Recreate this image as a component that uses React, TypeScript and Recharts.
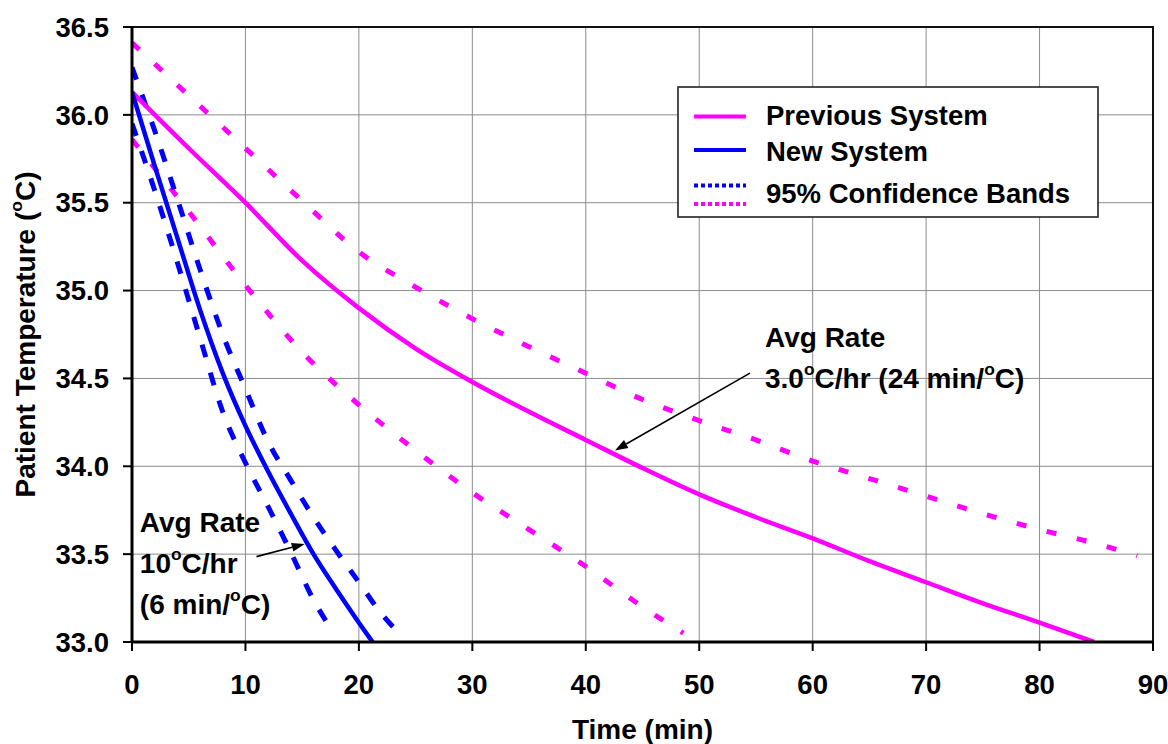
import React from 'react'
import {
  ComposedChart, Line, XAxis, YAxis, CartesianGrid, Legend,
  ReferenceArea, ReferenceLine, ReferenceDot,
} from 'recharts'

const MAGENTA = '#FF00FF'
const BLUE = '#0000FF'
const FONT = '"Liberation Sans", Arial, Helvetica, sans-serif'

// time (min) / temperature (°C)
const prevTime = [0, 5, 10, 15, 20, 25, 30, 35, 40, 45, 50, 55, 60, 65, 70, 75, 80, 84.8]
const prevTemp = [36.13, 35.81, 35.5, 35.17, 34.9, 34.67, 34.48, 34.31, 34.15, 33.99, 33.84, 33.71, 33.59, 33.46, 33.34, 33.22, 33.11, 33.0]

const prevUpperTime = [0, 5, 10, 15, 20, 25, 30, 35, 40, 45, 50, 55, 60, 65, 70, 75, 80, 85, 88.6]
const prevUpperTemp = [36.41, 36.11, 35.81, 35.51, 35.22, 35.02, 34.84, 34.68, 34.53, 34.38, 34.26, 34.15, 34.03, 33.93, 33.83, 33.73, 33.64, 33.56, 33.49]

const prevLowerTime = [0, 5, 10, 15, 20, 25, 30, 35, 40, 45, 48.6]
const prevLowerTemp = [35.86, 35.45, 35.03, 34.65, 34.35, 34.09, 33.85, 33.64, 33.43, 33.2, 33.05]

const newTime = [0, 2, 4, 6, 8, 10, 12, 14, 16, 18, 20, 21.2]
const newTemp = [36.13, 35.71, 35.3, 34.89, 34.53, 34.23, 33.97, 33.73, 33.5, 33.3, 33.11, 33.0]

const newUpperTime = [0, 2, 4, 6, 8, 10, 12, 14, 16, 18, 20, 22, 23.1]
const newUpperTemp = [36.27, 35.91, 35.52, 35.12, 34.75, 34.44, 34.14, 33.92, 33.71, 33.52, 33.34, 33.16, 33.08]

const newLowerTime = [0, 2, 4, 6, 8, 10, 12, 14, 16, 17.8]
const newLowerTemp = [35.95, 35.57, 35.16, 34.73, 34.31, 34.02, 33.77, 33.51, 33.24, 33.05]

const xTicks = [0, 10, 20, 30, 40, 50, 60, 70, 80, 90]
const yTicks = [33.0, 33.5, 34.0, 34.5, 35.0, 35.5, 36.0, 36.5]

const legendLabels = ['Previous System', 'New System', '95% Confidence Bands']

// "^o" marks a raised degree "o"
const noteX = [55.8, 0.69]
const noteY = [34.68, 33.624]
const noteLines = [
  ['Avg Rate', '3.0^oC/hr (24 min/^oC)'],
  ['Avg Rate', '10^oC/hr', '(6 min/^oC)'],
]
const arrowFrom = [{ x: 54.47, y: 34.53 }, { x: 10.97, y: 33.486 }]
const arrowTo = [{ x: 42.57, y: 34.09 }, { x: 15.23, y: 33.558 }]

const toPoints = (xs: number[], ys: number[]) => xs.map((time, i) => ({ time, temp: ys[i] }))

function SupText({ text, size }: { text: string; size: number }) {
  const parts = text.split('^o')
  const out: React.ReactNode[] = []
  const lift = size * 0.46
  parts.forEach((p, i) => {
    if (i > 0) {
      out.push(<tspan key={'s' + i} fontSize={size * 0.62} dy={-lift}>o</tspan>)
      out.push(<tspan key={'t' + i} fontSize={size} dy={lift}>{p}</tspan>)
    } else if (p) {
      out.push(<tspan key={'t' + i}>{p}</tspan>)
    }
  })
  return <>{out}</>
}

function Arrow(props: any) {
  const { x1, y1, x2, y2 } = props
  const a = Math.atan2(y2 - y1, x2 - x1)
  const len = 13, w = 4.5
  const bx = x2 - len * Math.cos(a), by = y2 - len * Math.sin(a)
  const px = -Math.sin(a) * w, py = Math.cos(a) * w
  return (
    <g>
      <line x1={x1} y1={y1} x2={bx} y2={by} stroke="#000" strokeWidth={1.6} />
      <polygon points={`${x2},${y2} ${bx + px},${by + py} ${bx - px},${by - py}`} fill="#000" />
    </g>
  )
}

function noteShape(lines: string[]) {
  return (p: any) => (
    <g>
      {lines.map((l, i) => (
        <text key={i} x={p.cx} y={p.cy + i * 41} fontFamily={FONT} fontWeight="bold" fontSize={28} fill="#000">
          <SupText text={l} size={28} />
        </text>
      ))}
    </g>
  )
}

function LegendBox() {
  const lineY = [30.5, 64]
  const baseY = [38.5, 75, 116.5]
  return (
    <svg width={422} height={132} style={{ display: 'block' }}>
      <rect x={1} y={1} width={420} height={130} fill="#fff" stroke="#222" strokeWidth={1.6} />
      <line x1={17} x2={69} y1={lineY[0]} y2={lineY[0]} stroke={MAGENTA} strokeWidth={4} />
      <line x1={17} x2={69} y1={lineY[1]} y2={lineY[1]} stroke={BLUE} strokeWidth={4} />
      <line x1={17} x2={69} y1={99.5} y2={99.5} stroke={BLUE} strokeWidth={4} strokeDasharray="4 3" />
      <line x1={17} x2={69} y1={118} y2={118} stroke={MAGENTA} strokeWidth={4} strokeDasharray="4 3" />
      {legendLabels.map((l, i) => (
        <text key={l} x={89} y={baseY[i]} fontFamily={FONT} fontWeight="bold" fontSize={27.5} fill="#000">{l}</text>
      ))}
    </svg>
  )
}

const tickStyle = { fill: '#000', fontSize: 27.5, fontWeight: 'bold', fontFamily: FONT }

export default function App() {
  return (
    <div style={{ width: 1168, height: 744, background: '#fff' }}>
      <style>{'body{margin:0;background:#fff}'}</style>
      <ComposedChart width={1168} height={744} margin={{ top: 27, right: 15, bottom: 0, left: 0 }}>
        <CartesianGrid stroke="#8c8c8c" strokeWidth={1} />
        <XAxis
          dataKey="time"
          type="number"
          domain={[0, 90]}
          ticks={xTicks}
          allowDataOverflow
          height={102}
          tick={tickStyle}
          tickSize={9}
          tickMargin={23}
          tickLine={{ stroke: '#000', strokeWidth: 2 }}
          axisLine={{ stroke: '#000', strokeWidth: 3 }}
          label={{ value: 'Time (min)', position: 'insideBottom', offset: 5, fill: '#000', fontSize: 28, fontWeight: 'bold', fontFamily: FONT }}
        />
        <YAxis
          type="number"
          domain={[33, 36.5]}
          ticks={yTicks}
          allowDataOverflow
          width={132}
          tick={tickStyle}
          tickFormatter={(v: number) => v.toFixed(1)}
          tickSize={9}
          tickMargin={14}
          tickLine={{ stroke: '#000', strokeWidth: 2 }}
          axisLine={{ stroke: '#000', strokeWidth: 3 }}
          label={(p: any) => {
            const vb = p.viewBox || {}
            const cy = (vb.y ?? 27) + (vb.height ?? 615) / 2
            return (
              <text x={35} y={cy} transform={`rotate(-90, 35, ${cy})`} textAnchor="middle"
                fontFamily={FONT} fontWeight="bold" fontSize={28} fill="#000">
                <SupText text="Patient Temperature (^oC)" size={28} />
              </text>
            )
          }}
        />
        <ReferenceArea x1={0} x2={90} y1={33} y2={36.5} fill="none" fillOpacity={0} stroke="#111" strokeWidth={2} />

        <Line data={toPoints(prevUpperTime, prevUpperTemp)} dataKey="temp" type="monotone" stroke={MAGENTA}
          strokeWidth={5} strokeDasharray="10 21" dot={false} isAnimationActive={false} legendType="none" />
        <Line data={toPoints(prevLowerTime, prevLowerTemp)} dataKey="temp" type="monotone" stroke={MAGENTA}
          strokeWidth={5} strokeDasharray="10 21" dot={false} isAnimationActive={false} legendType="none" />
        <Line data={toPoints(newUpperTime, newUpperTemp)} dataKey="temp" type="monotone" stroke={BLUE}
          strokeWidth={5} strokeDasharray="13 16" dot={false} isAnimationActive={false} legendType="none" />
        <Line data={toPoints(newLowerTime, newLowerTemp)} dataKey="temp" type="monotone" stroke={BLUE}
          strokeWidth={5} strokeDasharray="13 16" dot={false} isAnimationActive={false} legendType="none" />
        <Line data={toPoints(prevTime, prevTemp)} dataKey="temp" type="monotone" stroke={MAGENTA}
          strokeWidth={4.5} dot={false} isAnimationActive={false} name="Previous System" />
        <Line data={toPoints(newTime, newTemp)} dataKey="temp" type="monotone" stroke={BLUE}
          strokeWidth={4.5} dot={false} isAnimationActive={false} name="New System" />

        {arrowFrom.map((f, i) => (
          <ReferenceLine key={'a' + i} segment={[f, arrowTo[i]]} shape={Arrow} ifOverflow="visible" />
        ))}
        {noteLines.map((lines, i) => (
          <ReferenceDot key={'n' + i} x={noteX[i]} y={noteY[i]} r={0} ifOverflow="visible" shape={noteShape(lines)} />
        ))}

        <Legend
          layout="vertical"
          align="center"
          verticalAlign="middle"
          content={() => <LegendBox />}
          wrapperStyle={{ left: 677, top: 86, width: 422, height: 132 }}
        />
      </ComposedChart>
    </div>
  )
}
